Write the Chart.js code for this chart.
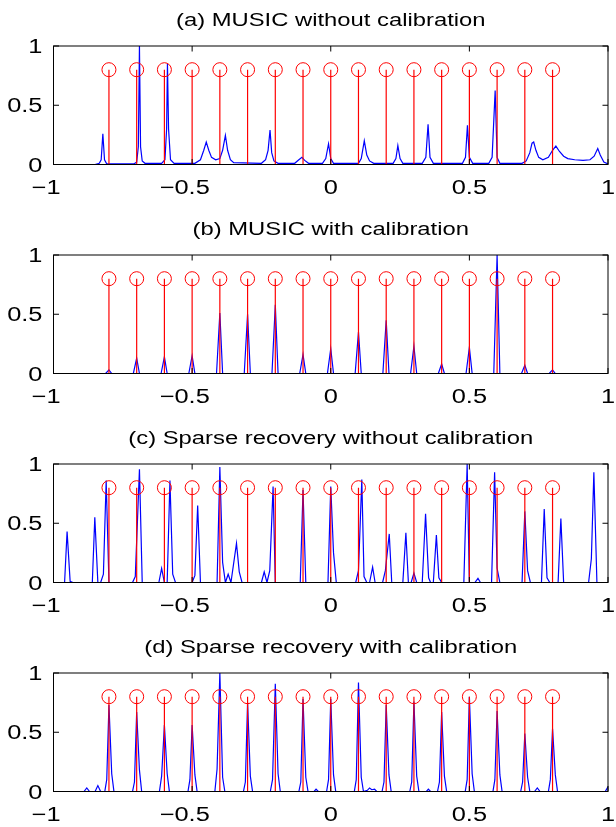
<!DOCTYPE html>
<html>
<head>
<meta charset="utf-8">
<script src="https://cdn.jsdelivr.net/npm/chart.js@4.4.1/dist/chart.umd.min.js"></script>
<style>
  html, body { margin: 0; padding: 0; background: #fff; }
  body { width: 616px; height: 827px; position: relative; overflow: hidden; }
  .panel { position: absolute; left: 0; width: 616px; height: 209px; }
</style>
</head>
<body>
<div class="panel" style="top:0px"><canvas id="c0" width="616" height="209"></canvas></div>
<div class="panel" style="top:209px"><canvas id="c1" width="616" height="209"></canvas></div>
<div class="panel" style="top:418px"><canvas id="c2" width="616" height="209"></canvas></div>
<div class="panel" style="top:627px"><canvas id="c3" width="616" height="209"></canvas></div>
<script>
// axis ticks
const xTicks = [-1, -0.5, 0, 0.5, 1];
const yTicks = [0, 0.5, 1];

// true source directions (red stems with circles)
const trueDoa = [-0.8, -0.7, -0.6, -0.5, -0.4, -0.3, -0.2, -0.1, 0, 0.1, 0.2, 0.3, 0.4, 0.5, 0.6, 0.7, 0.8];
const trueLevel = 0.8;

const titles = [
  "(a) MUSIC without calibration",
  "(b) MUSIC with calibration",
  "(c) Sparse recovery without calibration",
  "(d) Sparse recovery with calibration"
];

// estimated spectra, [x, y] points
const musicRaw = [
  [-1, 0], [-0.85, 0], [-0.835, 0.01], [-0.828, 0.04], [-0.822, 0.26], [-0.816, 0.04], [-0.808, 0.005],
  [-0.71, 0.005], [-0.70, 0.02], [-0.694, 0.15], [-0.69, 1.0], [-0.686, 0.15], [-0.68, 0.03], [-0.67, 0.01],
  [-0.61, 0.01], [-0.598, 0.04], [-0.592, 0.3], [-0.589, 0.85], [-0.585, 0.3], [-0.578, 0.04], [-0.565, 0.01],
  [-0.49, 0.01], [-0.47, 0.04], [-0.458, 0.12], [-0.449, 0.19], [-0.44, 0.12], [-0.43, 0.06], [-0.415, 0.04],
  [-0.40, 0.05], [-0.39, 0.12], [-0.38, 0.245], [-0.372, 0.12], [-0.362, 0.04], [-0.35, 0.015],
  [-0.25, 0.01], [-0.235, 0.04], [-0.226, 0.12], [-0.219, 0.29], [-0.213, 0.1], [-0.205, 0.03], [-0.19, 0.01],
  [-0.13, 0.01], [-0.115, 0.04], [-0.104, 0.06], [-0.094, 0.035], [-0.08, 0.01],
  [-0.03, 0.01], [-0.018, 0.05], [-0.008, 0.175], [0.0, 0.05], [0.01, 0.01],
  [0.10, 0.01], [0.11, 0.05], [0.121, 0.20], [0.13, 0.08], [0.14, 0.03], [0.155, 0.01],
  [0.225, 0.01], [0.235, 0.05], [0.242, 0.16], [0.25, 0.05], [0.26, 0.01],
  [0.33, 0.01], [0.343, 0.06], [0.351, 0.34], [0.358, 0.06], [0.37, 0.01],
  [0.475, 0.01], [0.486, 0.06], [0.493, 0.33], [0.50, 0.06], [0.512, 0.01],
  [0.57, 0.01], [0.582, 0.06], [0.593, 0.625], [0.60, 0.06], [0.61, 0.01],
  [0.69, 0.01], [0.705, 0.03], [0.718, 0.1], [0.726, 0.18], [0.732, 0.19], [0.74, 0.12], [0.75, 0.06],
  [0.765, 0.04], [0.785, 0.06], [0.80, 0.12], [0.812, 0.155], [0.825, 0.11], [0.84, 0.07], [0.855, 0.05],
  [0.88, 0.04], [0.91, 0.035], [0.935, 0.04], [0.95, 0.07], [0.963, 0.135], [0.972, 0.08], [0.985, 0.02], [1.0, 0.005]
];

const musicCal = [
  [-1, 0], [-0.812, 0], [-0.8, 0.03], [-0.79, 0],
  [-0.712, 0], [-0.7, 0.13], [-0.69, 0],
  [-0.612, 0], [-0.6, 0.14], [-0.59, 0],
  [-0.512, 0], [-0.5, 0.15], [-0.49, 0],
  [-0.412, 0], [-0.4, 0.51], [-0.39, 0],
  [-0.312, 0], [-0.3, 0.50], [-0.29, 0],
  [-0.212, 0], [-0.2, 0.58], [-0.19, 0],
  [-0.112, 0], [-0.1, 0.16], [-0.09, 0],
  [-0.012, 0], [0, 0.21], [0.01, 0],
  [0.088, 0], [0.1, 0.35], [0.11, 0],
  [0.188, 0], [0.2, 0.45], [0.21, 0],
  [0.288, 0], [0.3, 0.23], [0.31, 0],
  [0.388, 0], [0.4, 0.08], [0.41, 0],
  [0.488, 0], [0.5, 0.22], [0.51, 0],
  [0.588, 0], [0.6, 1.0], [0.61, 0],
  [0.688, 0], [0.7, 0.07], [0.71, 0],
  [0.788, 0], [0.8, 0.03], [0.81, 0], [1, 0]
];

const sparseRaw = [
  [-1, 0], [-0.96, 0], [-0.951, 0.43], [-0.94, 0.01], [-0.93, 0],
  [-0.86, 0], [-0.851, 0.55], [-0.84, 0], [-0.83, 0], [-0.82, 0.07], [-0.81, 0.86], [-0.80, 0],
  [-0.715, 0], [-0.705, 0.05], [-0.69, 0.955], [-0.68, 0],
  [-0.62, 0], [-0.61, 0.12], [-0.60, 0], [-0.59, 0], [-0.58, 0.86], [-0.57, 0.07], [-0.56, 0],
  [-0.50, 0], [-0.49, 0.06], [-0.48, 0.65], [-0.47, 0],
  [-0.41, 0], [-0.40, 0.975], [-0.39, 0.17], [-0.38, 0], [-0.37, 0.07], [-0.36, 0], [-0.34, 0.33], [-0.33, 0.09], [-0.32, 0],
  [-0.25, 0], [-0.24, 0.09], [-0.23, 0], [-0.22, 0.1], [-0.208, 0.81], [-0.2, 0],
  [-0.11, 0], [-0.1, 0.78], [-0.09, 0],
  [-0.01, 0], [0, 0.81], [0.01, 0.25], [0.02, 0],
  [0.09, 0], [0.10, 0.1], [0.112, 0.87], [0.12, 0.05], [0.13, 0], [0.14, 0], [0.151, 0.13], [0.16, 0],
  [0.187, 0], [0.197, 0.1], [0.211, 0.41], [0.22, 0],
  [0.26, 0], [0.271, 0.42], [0.28, 0], [0.29, 0], [0.30, 0.08], [0.31, 0],
  [0.33, 0], [0.342, 0.58], [0.353, 0.04], [0.36, 0], [0.37, 0], [0.381, 0.40], [0.39, 0.04], [0.40, 0],
  [0.48, 0], [0.492, 1.0], [0.50, 0], [0.52, 0], [0.531, 0.035], [0.54, 0],
  [0.58, 0], [0.591, 0.93], [0.60, 0.12], [0.61, 0],
  [0.69, 0], [0.70, 0.60], [0.71, 0.1], [0.72, 0],
  [0.76, 0], [0.77, 0.62], [0.78, 0.04], [0.79, 0],
  [0.82, 0], [0.83, 0.54], [0.84, 0],
  [0.93, 0], [0.94, 0.2], [0.949, 0.93], [0.96, 0], [1, 0]
];

const sparseCal = [
  [-1, 0], [-0.89, 0], [-0.88, 0.03], [-0.87, 0], [-0.85, 0], [-0.84, 0.05], [-0.83, 0],
  [-0.815, 0], [-0.808, 0.1], [-0.8, 0.73], [-0.79, 0.15], [-0.782, 0],
  [-0.715, 0], [-0.708, 0.08], [-0.7, 0.67], [-0.69, 0.18], [-0.682, 0],
  [-0.618, 0], [-0.61, 0.13], [-0.6, 0.56], [-0.59, 0.15], [-0.582, 0],
  [-0.515, 0], [-0.508, 0.1], [-0.5, 0.56], [-0.49, 0.14], [-0.482, 0],
  [-0.418, 0], [-0.41, 0.19], [-0.4, 1.0], [-0.39, 0.12], [-0.382, 0],
  [-0.315, 0], [-0.308, 0.08], [-0.3, 0.75], [-0.29, 0.13], [-0.282, 0],
  [-0.218, 0], [-0.21, 0.1], [-0.2, 0.91], [-0.19, 0.15], [-0.182, 0],
  [-0.115, 0], [-0.108, 0.08], [-0.1, 0.78], [-0.09, 0.12], [-0.082, 0],
  [-0.06, 0], [-0.053, 0.02], [-0.045, 0],
  [-0.015, 0], [-0.008, 0.1], [0, 0.78], [0.01, 0.14], [0.018, 0],
  [0.085, 0], [0.092, 0.1], [0.1, 0.92], [0.11, 0.12], [0.118, 0],
  [0.132, 0.01], [0.14, 0.03], [0.148, 0.015], [0.158, 0.02], [0.166, 0],
  [0.185, 0], [0.192, 0.08], [0.2, 0.73], [0.21, 0.14], [0.218, 0],
  [0.285, 0], [0.292, 0.08], [0.3, 0.76], [0.31, 0.13], [0.318, 0],
  [0.345, 0], [0.352, 0.02], [0.36, 0],
  [0.385, 0], [0.392, 0.08], [0.4, 0.67], [0.41, 0.13], [0.418, 0],
  [0.485, 0], [0.492, 0.1], [0.5, 0.8], [0.51, 0.15], [0.518, 0],
  [0.585, 0], [0.592, 0.1], [0.6, 0.68], [0.61, 0.14], [0.618, 0],
  [0.685, 0], [0.692, 0.08], [0.7, 0.49], [0.71, 0.12], [0.718, 0],
  [0.735, 0], [0.745, 0.03], [0.755, 0],
  [0.785, 0], [0.792, 0.1], [0.8, 0.53], [0.81, 0.14], [0.818, 0],
  [0.99, 0], [1.0, 0.04]
];

const spectra = [musicRaw, musicCal, sparseRaw, sparseCal];

const FONT = "'Liberation Sans', Arial, Helvetica, sans-serif";
// the original figure's text comes out wide, so it is stretched sideways
const TITLE_STRETCH = 1.36;
const TICK_STRETCH = 1.27;

function wideText(ctx, s, x, y, sx, align) {
  ctx.save();
  ctx.translate(x, y);
  ctx.scale(sx, 1);
  ctx.textAlign = align;
  ctx.fillText(s, 0, 0);
  ctx.restore();
}

// matlab style box with inward ticks on all four sides
const boxPlugin = {
  id: "matlabBox",
  afterDraw(chart) {
    const { ctx, chartArea: a, scales } = chart;
    const len = 5.5;
    ctx.save();
    ctx.strokeStyle = "#000";
    ctx.lineWidth = 1;
    ctx.strokeRect(a.left, a.top, a.right - a.left, a.bottom - a.top);
    ctx.beginPath();
    xTicks.forEach(v => {
      const px = scales.x.getPixelForValue(v);
      ctx.moveTo(px, a.bottom); ctx.lineTo(px, a.bottom - len);
      ctx.moveTo(px, a.top); ctx.lineTo(px, a.top + len);
    });
    yTicks.forEach(v => {
      const py = scales.y.getPixelForValue(v);
      ctx.moveTo(a.left, py); ctx.lineTo(a.left + len, py);
      ctx.moveTo(a.right, py); ctx.lineTo(a.right - len, py);
    });
    ctx.stroke();
    ctx.restore();
  }
};

// title and tick labels
const textPlugin = {
  id: "matlabText",
  afterDraw(chart, args, opts) {
    const { ctx, chartArea: a, scales } = chart;
    ctx.save();
    ctx.fillStyle = "#000";
    ctx.textBaseline = "alphabetic";

    ctx.font = "17.5px " + FONT;
    wideText(ctx, opts.title, (a.left + a.right) / 2, a.top - 20.5, TITLE_STRETCH, "center");

    ctx.font = "20px " + FONT;
    yTicks.forEach(v => {
      wideText(ctx, String(v), a.left - 11, scales.y.getPixelForValue(v) + 7, TICK_STRETCH, "right");
    });
    xTicks.forEach(v => {
      const px = scales.x.getPixelForValue(v);
      const num = String(Math.abs(v));
      const y = a.bottom + 29;
      const wNum = ctx.measureText(num).width * TICK_STRETCH;
      const label = v < 0 ? "\u2212" + num : num;
      const wAll = ctx.measureText(label).width * TICK_STRETCH;
      // digits centred on the tick, minus hangs to the left
      wideText(ctx, label, px + wNum / 2 - wAll, y, TICK_STRETCH, "left");
    });
    ctx.restore();
  }
};

function makeChart(i) {
  const stemLines = [];
  trueDoa.forEach(x => {
    stemLines.push({ x: x, y: 0 }, { x: x, y: trueLevel }, { x: x, y: null });
  });
  const ctx = document.getElementById("c" + i).getContext("2d");
  new Chart(ctx, {
    type: "line",
    data: {
      datasets: [
        {
          type: "scatter",
          data: trueDoa.map(x => ({ x: x, y: trueLevel })),
          pointStyle: "circle",
          pointRadius: 7,
          pointBorderWidth: 1,
          pointBorderColor: "#ff0000",
          pointBackgroundColor: "rgba(0,0,0,0)",
          showLine: false
        },
        {
          data: stemLines,
          borderColor: "#ff0000",
          borderWidth: 1.2,
          pointRadius: 0,
          spanGaps: false,
          tension: 0
        },
        {
          data: spectra[i].map(p => ({ x: p[0], y: p[1] })),
          borderColor: "#0000ff",
          borderWidth: 1.2,
          pointRadius: 0,
          tension: 0
        }
      ]
    },
    options: {
      responsive: false,
      animation: false,
      events: [],
      layout: { padding: { left: 0, right: 2, top: 46, bottom: 0 } },
      plugins: {
        legend: { display: false },
        tooltip: { enabled: false },
        title: { display: false },
        matlabText: { title: titles[i] }
      },
      scales: {
        x: {
          type: "linear",
          min: -1,
          max: 1,
          grid: { display: false, drawTicks: false },
          border: { display: false },
          ticks: { display: false },
          afterBuildTicks: s => { s.ticks = xTicks.map(v => ({ value: v })); },
          afterFit: s => { s.height = 44.5; s.paddingLeft = 0; s.paddingRight = 0; }
        },
        y: {
          type: "linear",
          min: 0,
          max: 1,
          grid: { display: false, drawTicks: false },
          border: { display: false },
          ticks: { display: false },
          afterBuildTicks: s => { s.ticks = yTicks.map(v => ({ value: v })); },
          afterFit: s => { s.width = 53.5; s.paddingTop = 0; s.paddingBottom = 0; }
        }
      }
    },
    plugins: [boxPlugin, textPlugin]
  });
}

for (let i = 0; i < 4; i++) makeChart(i);
</script>
</body>
</html>
